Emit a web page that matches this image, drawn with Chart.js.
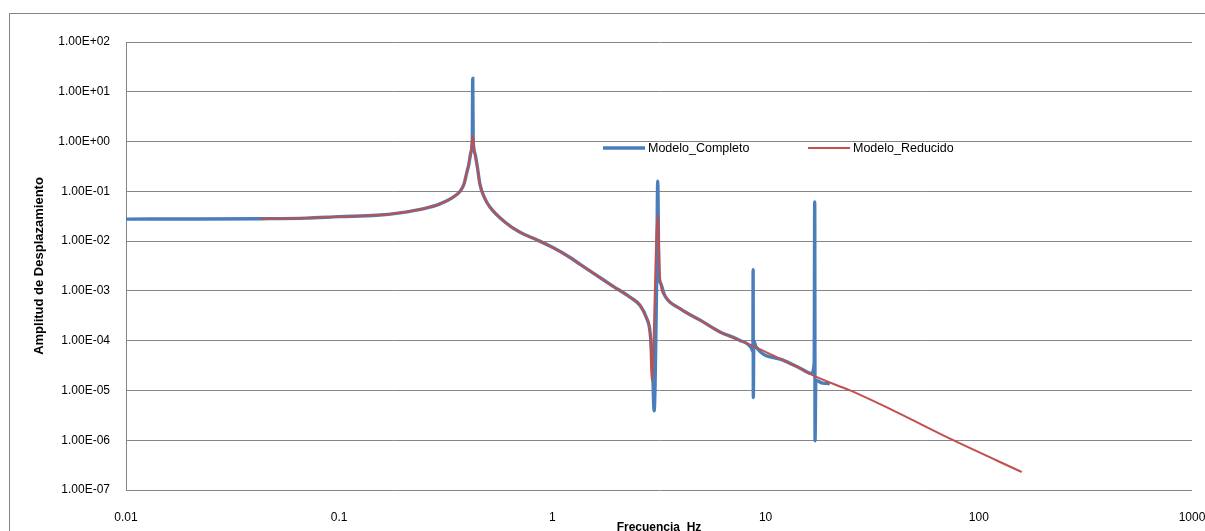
<!DOCTYPE html>
<html>
<head>
<meta charset="utf-8">
<script src="https://cdn.jsdelivr.net/npm/chart.js@4.4.1/dist/chart.umd.min.js"></script>
<style>
html,body{margin:0;padding:0;background:#fff;}
canvas{display:block;}
</style>
</head>
<body>
<canvas id="c" width="1205" height="531"></canvas>
<script>
// ---- data ----
const completoFreq = [0.01, 0.02, 0.0426, 0.07, 0.1, 0.15, 0.193, 0.25, 0.297, 0.34, 0.369, 0.385, 0.396, 0.405, 0.415, 0.421, 0.423, 0.425, 0.432, 0.445, 0.457, 0.48, 0.51, 0.6, 0.705, 0.85, 1.0, 1.2, 1.35, 1.6, 1.92, 2.31, 2.58, 2.77, 2.87, 2.95, 3.0, 3.08, 3.12, 3.16, 3.2, 3.37, 3.97, 5.0, 6.11, 7.5, 8.6, 8.72, 8.74, 8.76, 8.8, 9.0, 12.0, 14.5, 16.4, 16.9, 17.0, 17.06, 17.2, 18.5, 20.0];
const completoAmp  = [0.0277, 0.0278, 0.0282, 0.029, 0.031, 0.033, 0.037, 0.045, 0.056, 0.075, 0.10, 0.14, 0.23, 0.34, 0.62, 1.15, 18.5, 1.15, 0.6, 0.3, 0.14, 0.075, 0.048, 0.024, 0.015, 0.0105, 0.0075, 0.0048, 0.0034, 0.0021, 0.00125, 0.00075, 0.00051, 0.00028, 0.00015, 3e-5, 3.9e-6, 1.2e-3, 0.16, 2.0e-3, 1.5e-3, 0.0008, 0.00044, 0.00025, 0.00015, 1.03e-4, 7.0e-5, 6.0e-5, 2.66e-3, 7.2e-6, 1.0e-4, 7.6e-5, 4.1e-5, 2.8e-5, 2.2e-5, 3.5e-5, 0.061, 0.97e-6, 1.6e-5, 1.4e-5, 1.38e-5];

const reducidoFreq = [0.0426, 0.07, 0.1, 0.15, 0.193, 0.25, 0.297, 0.34, 0.369, 0.385, 0.396, 0.405, 0.415, 0.423, 0.432, 0.445, 0.457, 0.48, 0.51, 0.6, 0.705, 0.85, 1.0, 1.2, 1.35, 1.6, 1.92, 2.31, 2.58, 2.77, 2.87, 2.92, 3.12, 3.2, 3.37, 3.97, 5.0, 6.11, 8.75, 12.0, 14.5, 16.7, 24.9, 40, 75.9, 158.9];
const reducidoAmp  = [0.0282, 0.029, 0.031, 0.033, 0.037, 0.045, 0.056, 0.075, 0.10, 0.14, 0.23, 0.34, 0.62, 1.32, 0.6, 0.3, 0.14, 0.075, 0.048, 0.024, 0.015, 0.0105, 0.0075, 0.0048, 0.0034, 0.0021, 0.00125, 0.00075, 0.00051, 0.00028, 0.00015, 1.55e-5, 0.034, 0.0018, 0.0008, 0.00044, 0.00025, 0.00015, 7.8e-5, 4.1e-5, 2.8e-5, 2.0e-5, 1.0e-5, 3.9e-6, 1.0e-6, 2.3e-7];

const xTickValues = [0.01, 0.1, 1, 10, 100, 1000];
const xTickLabels = ["0.01", "0.1", "1", "10", "100", "1000"];
const yTickValues = [1e-7, 1e-6, 1e-5, 1e-4, 1e-3, 1e-2, 1e-1, 1e0, 1e1, 1e2];
const yTickLabels = ["1.00E-07", "1.00E-06", "1.00E-05", "1.00E-04", "1.00E-03", "1.00E-02", "1.00E-01", "1.00E+00", "1.00E+01", "1.00E+02"];

const seriesNames = ["Modelo_Completo", "Modelo_Reducido"];
const xTitle = "Frecuencia  Hz";
const yTitle = "Amplitud de Desplazamiento";

// ---- chart ----
const FONT = "'Liberation Sans', Arial, sans-serif";
const GRID = '#868686';

function pts(xs, ys) { return xs.map((x, i) => ({ x: x, y: ys[i] })); }

const frame = {
  id: 'frame',
  beforeDraw(chart) {
    const ctx = chart.ctx;
    ctx.save();
    ctx.fillStyle = '#fff';
    ctx.fillRect(0, 0, chart.width, chart.height);
    ctx.strokeStyle = GRID;
    ctx.lineWidth = 1;
    ctx.strokeRect(9.5, 13.5, chart.width, chart.height + 50);
    ctx.restore();
  }
};

const insideLegend = {
  id: 'insideLegend',
  afterDraw(chart) {
    const ctx = chart.ctx;
    const starts = [603, 808];
    const order = [1, 0]; // dataset index for Completo, Reducido
    ctx.save();
    ctx.font = '12.5px ' + FONT;
    ctx.textBaseline = 'middle';
    ctx.textAlign = 'left';
    order.forEach((di, k) => {
      const ds = chart.data.datasets[di];
      const x0 = starts[k], y = 148;
      ctx.strokeStyle = ds.borderColor;
      ctx.lineWidth = ds.borderWidth;
      ctx.beginPath();
      ctx.moveTo(x0, y);
      ctx.lineTo(x0 + 42, y);
      ctx.stroke();
      ctx.fillStyle = '#000';
      ctx.fillText(ds.label, x0 + 45, y + 1);
    });
    ctx.restore();
  }
};

new Chart(document.getElementById('c'), {
  type: 'line',
  data: {
    datasets: [
      {
        label: seriesNames[1],
        data: pts(reducidoFreq, reducidoAmp),
        borderColor: '#c0504d',
        borderWidth: 2,
        pointRadius: 0,
        cubicInterpolationMode: 'monotone',
        order: 0
      },
      {
        label: seriesNames[0],
        data: pts(completoFreq, completoAmp),
        borderColor: '#4a7ebb',
        borderWidth: 3.4,
        pointRadius: 0,
        cubicInterpolationMode: 'monotone',
        order: 1
      }
    ]
  },
  options: {
    responsive: false,
    animation: false,
    devicePixelRatio: 1,
    layout: { padding: { left: 0, top: 42, right: 13, bottom: 0 } },
    plugins: {
      legend: { display: false },
      tooltip: { enabled: false }
    },
    scales: {
      x: {
        type: 'logarithmic',
        min: 0.01,
        max: 1000,
        afterBuildTicks: s => { s.ticks = xTickValues.map(v => ({ value: v })); },
        afterFit: s => { s.height = 41; s.paddingLeft = 0; s.paddingRight = 0; },
        grid: { display: false, drawTicks: false },
        border: { display: false },
        ticks: {
          autoSkip: false,
          maxRotation: 0,
          padding: 20,
          color: '#000',
          font: { family: FONT, size: 12 },
          callback: v => xTickLabels[xTickValues.indexOf(v)]
        },
        title: {
          display: true,
          text: xTitle,
          color: '#000',
          font: { family: FONT, size: 12, weight: 'bold' },
          padding: { top: 0, bottom: -4 }
        }
      },
      y: {
        type: 'logarithmic',
        min: 1e-7,
        max: 100,
        afterBuildTicks: s => { s.ticks = yTickValues.map(v => ({ value: v })); },
        afterFit: s => { s.width = 126; },
        grid: { color: GRID, lineWidth: 1, drawTicks: false },
        border: { display: true, color: GRID, width: 1 },
        ticks: {
          autoSkip: false,
          padding: 16,
          color: '#000',
          font: { family: FONT, size: 12 },
          callback: v => yTickLabels[yTickValues.indexOf(v)]
        },
        title: {
          display: true,
          text: yTitle,
          color: '#000',
          font: { family: FONT, size: 13, weight: 'bold' },
          padding: { top: 32, bottom: 0 }
        }
      }
    }
  },
  plugins: [frame, insideLegend]
});
</script>
</body>
</html>
